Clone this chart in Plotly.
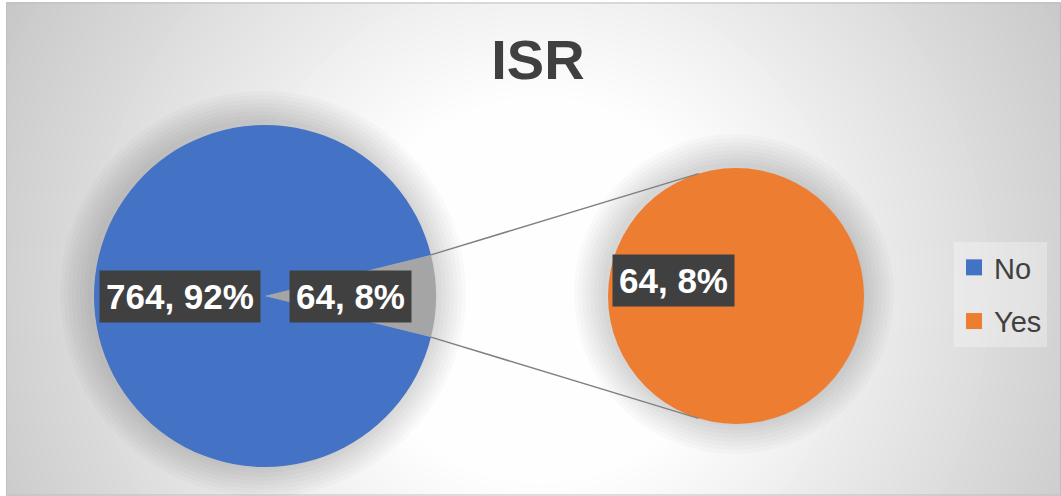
import math
import plotly.graph_objects as go

# data
title_text = "ISR"
categories = ["No", "Yes"]
counts = [764, 64]
main_labels = ["Yes", "No"]          # slices of the main pie ("Yes" is split out)
main_values = [counts[1], counts[0]]
sub_labels = ["Yes"]
sub_values = [counts[1]]

BLUE = "#4472C4"
ORANGE = "#ED7D31"
GREY = "#A5A5A5"
TEXT = "#404040"
FONT = "Liberation Sans"

W, H = 1061, 496


def fx(x):
    return x / W


def fy(y):
    return 1 - y / H


total = sum(counts)
pct = [round(100 * v / total) for v in counts]
lab = {c: f"{v}, {p}%" for c, v, p in zip(categories, counts, pct)}

# geometry of the two pies (pixels)
c1, r1 = (265, 296), 171
c2, r2 = (736, 296), 128

shapes = []

# radial grey -> white background
gcx, gcy = 540, 290
r_in, r_out = 190, 635
r = 650
while r >= r_in:
    t = min(1.0, max(0.0, (r - r_in) / (r_out - r_in)))
    v = int(round(255 - 59 * t))
    shapes.append(dict(type="circle", xref="paper", yref="paper", layer="below",
                       x0=fx(gcx - r), x1=fx(gcx + r), y0=fy(gcy + r), y1=fy(gcy - r),
                       fillcolor=f"rgb({v},{v},{v})", line_width=0))
    r -= 8
shapes.append(dict(type="rect", xref="paper", yref="paper", layer="below",
                   x0=0, x1=fx(6), y0=0, y1=1, fillcolor="white", line_width=0))
shapes.append(dict(type="rect", xref="paper", yref="paper", layer="below",
                   x0=0, x1=1, y0=fy(2), y1=1, fillcolor="white", line_width=0))
shapes.append(dict(type="rect", xref="paper", yref="paper", layer="below",
                   x0=fx(6.5), x1=fx(1060.5), y0=fy(495), y1=fy(3),
                   line=dict(color="#BFBFBF", width=1)))

# soft shadows behind pies
for (cx, cy), rr in [(c1, r1), (c2, r2)]:
    for k in range(32, 0, -4):
        shapes.append(dict(type="circle", xref="paper", yref="paper", layer="below",
                           x0=fx(cx - rr - k - 2), x1=fx(cx + rr + k - 2),
                           y0=fy(cy + rr + k - 2), y1=fy(cy - rr - k - 2),
                           fillcolor="rgba(0,0,0,0.02)", line_width=0))

# connector lines from split wedge to secondary pie
half = math.pi * main_values[0] / total
for s in (1, -1):
    x0 = c1[0] + r1 * math.cos(half)
    y0 = c1[1] - s * r1 * math.sin(half)
    a = math.radians(107)
    x1 = c2[0] - r2 * math.cos(math.pi - a)
    y1 = c2[1] - s * r2 * math.sin(a)
    shapes.append(dict(type="line", xref="paper", yref="paper", layer="above",
                       x0=fx(x0), y0=fy(y0), x1=fx(x1), y1=fy(y1),
                       line=dict(color="#808080", width=1.5)))

fig = go.Figure()

fig.add_trace(go.Pie(
    labels=main_labels, values=main_values, sort=False, direction="clockwise",
    rotation=90 - 180 * main_values[0] / total,
    marker=dict(colors=[GREY, BLUE], line=dict(width=0)),
    textinfo="none", hoverinfo="label+value+percent", showlegend=False,
    domain=dict(x=[fx(c1[0] - r1), fx(c1[0] + r1)], y=[fy(c1[1] + r1), fy(c1[1] - r1)]),
))
fig.add_trace(go.Pie(
    labels=sub_labels, values=sub_values, sort=False,
    marker=dict(colors=[ORANGE], line=dict(width=0)),
    textinfo="none", hoverinfo="label+value", showlegend=False,
    domain=dict(x=[fx(c2[0] - r2), fx(c2[0] + r2)], y=[fy(c2[1] + r2), fy(c2[1] - r2)]),
))

# legend entries
for name, col in zip(categories, [BLUE, ORANGE]):
    fig.add_trace(go.Scatter(x=[None], y=[None], mode="markers", name=name,
                             legendgroup=name,
                             marker=dict(symbol="square", size=16, color=col)))

# data labels with dark boxes
label_pos = [
    (lab["No"], c1, r1, 180),
    (lab["Yes"], c1, r1, 0),
    (lab["Yes"], c2, r2, 166),
]
annotations = []
for txt, (cx, cy), rr, ang in label_pos:
    px_ = cx + 0.5 * rr * math.cos(math.radians(ang))
    py_ = cy - 0.5 * rr * math.sin(math.radians(ang))
    annotations.append(dict(
        text=txt, x=fx(px_), y=fy(py_), xref="paper", yref="paper",
        xanchor="center", yanchor="middle",
        showarrow=False, bgcolor="#404040", borderpad=6,
        font=dict(family=FONT, size=35, color="white", weight="bold"),
    ))

fig.update_layout(
    width=W, height=H,
    margin=dict(l=0, r=0, t=0, b=0),
    paper_bgcolor="white",
    plot_bgcolor="rgba(0,0,0,0)",
    xaxis=dict(visible=False),
    yaxis=dict(visible=False),
    title=dict(text=title_text, x=fx(538), xanchor="center", y=fy(59), yanchor="middle",
               font=dict(family=FONT, size=56, color=TEXT, weight="bold")),
    legend=dict(x=fx(954), y=fy(242), xanchor="left", yanchor="top",
                bgcolor="rgba(255,255,255,0.3)", tracegroupgap=13,
                font=dict(family=FONT, size=29, color=TEXT)),
    shapes=shapes,
    annotations=annotations,
    showlegend=True,
)

fig.write_html("out.html", config={"displayModeBar": False},
               post_script="document.body.style.margin='0';")
